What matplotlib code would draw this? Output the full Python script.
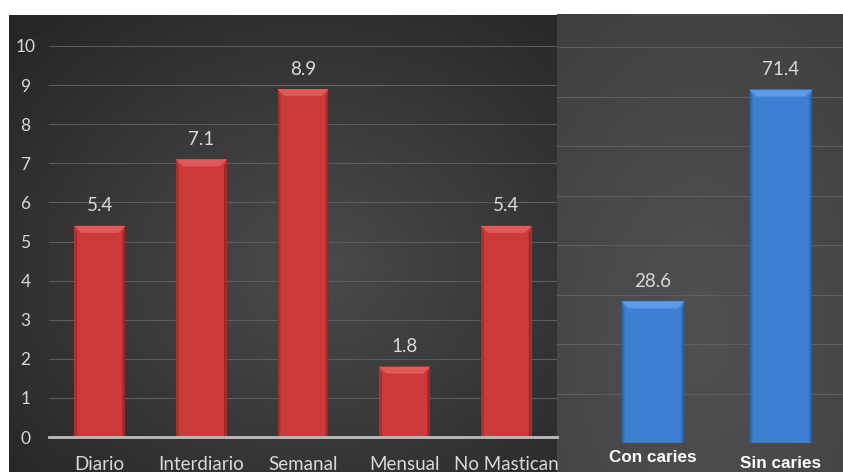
import numpy as np
import matplotlib
matplotlib.use("Agg")
import matplotlib.pyplot as plt
from matplotlib.patches import Polygon

# frecuencia de masticado (%)
frecuencias = ["Diario", "Interdiario", "Semanal", "Mensual", "No Mastican"]
valores_frec = [5.4, 7.1, 8.9, 1.8, 5.4]

# presencia de caries (%)
caries = ["Con caries", "Sin caries"]
valores_caries = [28.6, 71.4]

W, H = 843, 472
TEXTO = "#d9d9d9"
FUENTE = ["Lato", "DejaVu Sans"]
TAM = 13.5


def fig_rect(x0, y0, x1, y1):
    # pixel box (top-left origin) -> figure fraction rect
    return [x0 / W, 1 - y1 / H, (x1 - x0) / W, (y1 - y0) / H]


def fondo(fig, rect, c_centro, c_borde, cx=0.5, cy=0.5, escala=1.0):
    ax = fig.add_axes(rect, zorder=0)
    yy, xx = np.mgrid[0:1:200j, 0:1:300j]
    r = np.sqrt(((xx - cx) / 0.75) ** 2 + ((yy - cy) / 0.75) ** 2) * escala
    r = np.clip(r, 0, 1)
    c0 = np.array(matplotlib.colors.to_rgb(c_centro))
    c1 = np.array(matplotlib.colors.to_rgb(c_borde))
    img = c0[None, None, :] * (1 - r[..., None]) + c1[None, None, :] * r[..., None]
    ax.imshow(img, aspect="auto", extent=(0, 1, 0, 1), origin="upper")
    ax.set_axis_off()


def bisel(ax, barras, claro, oscuro, px=7):
    # add a bevelled top and darker sides to each bar
    inv = ax.transData.inverted()
    p0 = inv.transform((0, 0))
    p1 = inv.transform((px, px))
    dx, dy = p1 - p0
    for b in barras:
        x0, w, h = b.get_x(), b.get_width(), b.get_height()
        x1 = x0 + w
        ax.add_patch(Polygon([(x0, h), (x1, h), (x1 - dx, h - dy), (x0 + dx, h - dy)],
                             closed=True, facecolor=claro, edgecolor="none", zorder=3))
        ax.add_patch(Polygon([(x0, 0), (x0, h), (x0 + dx * 0.4, h - dy), (x0 + dx * 0.4, 0)],
                             closed=True, facecolor=oscuro, edgecolor="none", alpha=0.4, zorder=3))
        ax.add_patch(Polygon([(x1, 0), (x1, h), (x1 - dx * 0.4, h - dy), (x1 - dx * 0.4, 0)],
                             closed=True, facecolor=oscuro, edgecolor="none", alpha=0.55, zorder=3))


fig = plt.figure(figsize=(W / 100, H / 100), dpi=100, facecolor="white")

# fondos de los dos paneles
fondo(fig, fig_rect(9, 15, 557, 472), "#4b4b4b", "#262626", cx=0.55, cy=0.55)
fondo(fig, fig_rect(557, 14, 843, 472), "#515151", "#3e3e3e", cx=0.5, cy=0.7, escala=0.8)

# panel izquierdo: frecuencia
ax1 = fig.add_axes(fig_rect(49, 46, 557, 437), zorder=2)
ax1.patch.set_alpha(0)
x1 = np.arange(len(frecuencias))
b1 = ax1.bar(x1, valores_frec, width=0.5, color="#cc3a3a", zorder=2)
ax1.set_xlim(-0.5, len(frecuencias) - 0.5)
ax1.set_ylim(0, 10)
ax1.set_yticks(range(0, 11))
ax1.grid(axis="y", color="#5c5c5c", linewidth=0.8)
ax1.set_axisbelow(True)
for s in ["top", "right", "left"]:
    ax1.spines[s].set_visible(False)
ax1.spines["bottom"].set_color("#bdbdbd")
ax1.spines["bottom"].set_linewidth(2)
ax1.spines["bottom"].set_zorder(4)
ax1.tick_params(length=0, colors=TEXTO, labelsize=TAM)
ax1.tick_params(axis="y", pad=17, labelsize=12.5)
ax1.tick_params(axis="x", pad=14)
ax1.set_xticks(x1)
ax1.set_xticklabels(frecuencias, fontfamily=FUENTE)
for t in ax1.get_yticklabels():
    t.set_fontfamily(FUENTE)
    t.set_horizontalalignment("center")
for xi, v in zip(x1, valores_frec):
    ax1.annotate(f"{v}", (xi, v), xytext=(0, 20), textcoords="offset pixels",
                 ha="center", va="center", color=TEXTO, fontsize=TAM, fontfamily=FUENTE)

# panel derecho: caries
ax2 = fig.add_axes(fig_rect(557, 47, 843, 443), zorder=2)
ax2.patch.set_alpha(0)
x2 = np.arange(len(caries))
b2 = ax2.bar(x2, valores_caries, width=0.49, color="#3d7fd2", zorder=2)
ax2.set_xlim(-0.75, 1.484)
ax2.set_ylim(0, 80)
ax2.set_yticks(range(0, 81, 10))
ax2.grid(axis="y", color="#5e5e5e", linewidth=0.8)
ax2.set_axisbelow(True)
for s in ax2.spines.values():
    s.set_visible(False)
ax2.tick_params(length=0, labelleft=False)
ax2.set_xticks([])
for xi, v in zip(x2, valores_caries):
    ax2.annotate(f"{v}", (xi, v), xytext=(0, 20), textcoords="offset pixels",
                 ha="center", va="center", color=TEXTO, fontsize=TAM, fontfamily=FUENTE)
# etiquetas de categoria, cada una a su altura
for xi, nombre, dy in zip(x2, caries, [-15, -20]):
    ax2.annotate(nombre, (xi, 0), xytext=(0, dy), textcoords="offset pixels",
                 ha="center", va="center", color="white", fontsize=12.3,
                 fontweight="bold", fontfamily="Liberation Sans")

fig.canvas.draw()
bisel(ax1, b1, "#e15a5a", "#7a1c1c")
bisel(ax2, b2, "#5b9be8", "#1d4c88")

fig.savefig("out.png", dpi=100, facecolor="white")
